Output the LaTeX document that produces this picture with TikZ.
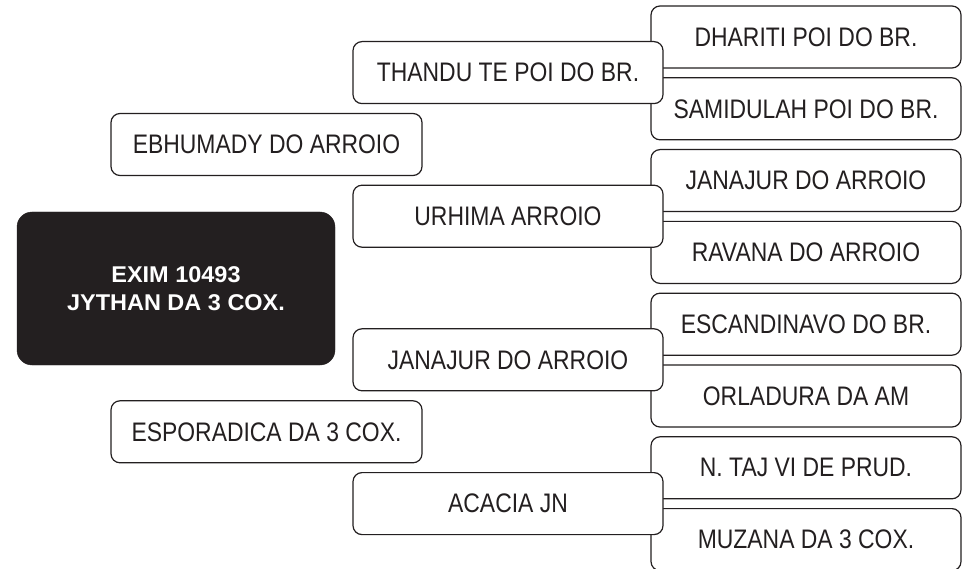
\documentclass[tikz,border=0pt]{standalone}
\usepackage{fontspec}
\setmainfont{Liberation Sans}
\newfontfamily\boxfont[FakeStretch=0.855]{Liberation Sans}
\newfontfamily\rootfont[FakeStretch=1.03]{Liberation Sans}
\definecolor{ink}{HTML}{231F20}
\begin{document}
\begin{tikzpicture}[x=1pt,y=-1pt,
  box/.style={draw=ink, line width=1.2pt, fill=white, rounded corners=9pt,
    minimum width=310pt, minimum height=62pt, inner sep=0pt, text=ink,
    font=\boxfont\fontsize{26.8}{30}\selectfont},
  rootbox/.style={fill=ink, draw=ink, rounded corners=15pt,
    minimum width=318pt, minimum height=153pt, inner sep=0pt, text=white,
    align=center, font=\rootfont\bfseries\fontsize{22.8}{28.4}\selectfont}]
\useasboundingbox (0,0) rectangle (968,569);
% right column
\node[box] (r1) at (806,37.0) {DHARITI POI DO BR.};
\node[box] (r2) at (806,108.8) {SAMIDULAH POI DO BR.};
\node[box] (r3) at (806,180.6) {JANAJUR DO ARROIO};
\node[box] (r4) at (806,252.4) {RAVANA DO ARROIO};
\node[box] (r5) at (806,324.2) {ESCANDINAVO DO BR.};
\node[box] (r6) at (806,396.0) {ORLADURA DA AM};
\node[box] (r7) at (806,467.8) {N. TAJ VI DE PRUD.};
\node[box] (r8) at (806,539.6) {MUZANA DA 3 COX.};
% middle column
\node[box] (m1) at (508,72.6) {THANDU TE POI DO BR.};
\node[box] (m2) at (508,216.2) {URHIMA ARROIO};
\node[box] (m3) at (508,359.8) {JANAJUR DO ARROIO};
\node[box] (m4) at (508,503.6) {ACACIA JN};
% left column
\node[box, minimum width=311pt] (l1) at (266.5,144.5) {EBHUMADY DO ARROIO};
\node[box, minimum width=311pt] (l2) at (266.5,431.8) {ESPORADICA DA 3 COX.};
% root
\node[rootbox] (root) at (176,288.5) {EXIM 10493\\JYTHAN DA 3 COX.};
\end{tikzpicture}
\end{document}
